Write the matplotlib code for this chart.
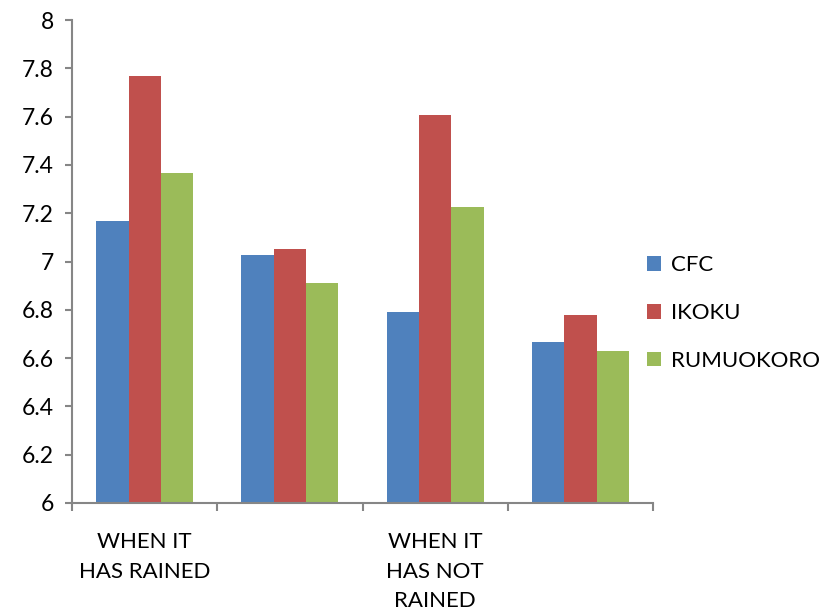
import numpy as np
import matplotlib.pyplot as plt
from matplotlib.ticker import FixedLocator

plt.rcParams['font.family'] = ['Lato', 'DejaVu Sans']

# Daten
categories = ['WHEN IT\nHAS RAINED', '', 'WHEN IT\nHAS NOT\nRAINED', '']
series = ['CFC', 'IKOKU', 'RUMUOKORO']
cfc = [7.167, 7.027, 6.79, 6.665]
ikoku = [7.77, 7.05, 7.605, 6.78]
rumuokoro = [7.365, 6.91, 7.225, 6.63]
yticks = [6, 6.2, 6.4, 6.6, 6.8, 7, 7.2, 7.4, 7.6, 7.8, 8]
colors = ['#4F81BD', '#C0504D', '#9BBB59']

fig = plt.figure(figsize=(8.23, 6.14), dpi=100)
ax = fig.add_axes([0.0875, 0.1808, 0.706, 0.7866])

x = np.arange(len(categories))
w = 1 / 4.5
for i, (name, vals) in enumerate(zip(series, [cfc, ikoku, rumuokoro])):
    ax.bar(x + (i - 1) * w, np.array(vals) - 6, width=w, bottom=6,
           color=colors[i], label=name, linewidth=0)

ax.set_ylim(6, 8)
ax.set_xlim(-0.5, len(categories) - 0.5)
ax.set_yticks(yticks)
ax.set_yticklabels([f'{v:g}' for v in yticks])

ax.set_xticks(x)
ax.set_xticklabels(categories, linespacing=1.6)
ax.xaxis.set_minor_locator(FixedLocator(np.arange(-0.5, len(categories), 1.0)))

for s in ['top', 'right']:
    ax.spines[s].set_visible(False)
for s in ['left', 'bottom']:
    ax.spines[s].set_color('#868686')
    ax.spines[s].set_linewidth(1.5)

ax.tick_params(axis='y', direction='out', length=5, width=1.5, color='#868686',
               labelsize=16.5, pad=8)
ax.tick_params(axis='x', which='major', length=0, labelsize=16, pad=21)
ax.tick_params(axis='x', which='minor', direction='out', length=6, width=1.5,
               color='#868686')

ax.legend(loc='center left', bbox_to_anchor=(0.786, 0.49),
          bbox_transform=fig.transFigure, frameon=False, fontsize=16,
          handlelength=0.62, handleheight=0.62, handletextpad=0.45,
          labelspacing=1.25, borderpad=0, borderaxespad=0)

plt.savefig('out.png', dpi=100)
